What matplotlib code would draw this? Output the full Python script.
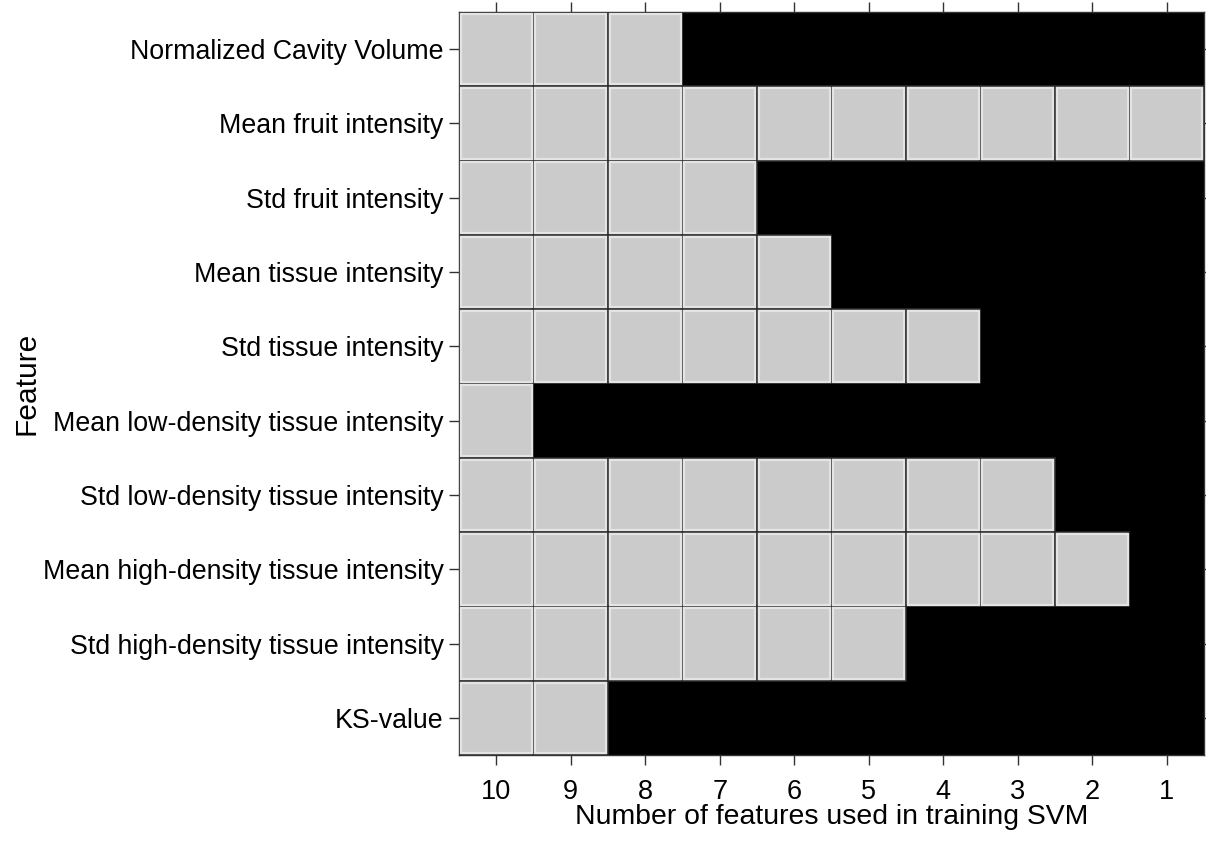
import numpy as np
import matplotlib
matplotlib.use("Agg")
import matplotlib.pyplot as plt
from matplotlib.patches import Rectangle

plt.rcParams['font.family'] = ['Liberation Sans', 'DejaVu Sans']

# feature names, top to bottom
features = [
    "Normalized Cavity Volume",
    "Mean fruit intensity",
    "Std fruit intensity",
    "Mean tissue intensity",
    "Std tissue intensity",
    "Mean low-density tissue intensity",
    "Std low-density tissue intensity",
    "Mean high-density tissue intensity",
    "Std high-density tissue intensity",
    "KS-value",
]
# number of features in the SVM (columns, left to right)
n_features = [10, 9, 8, 7, 6, 5, 4, 3, 2, 1]
# smallest feature count at which each feature is still kept
kept_down_to = [8, 1, 7, 6, 4, 10, 3, 2, 5, 9]

used = np.array([[n >= k for n in n_features] for k in kept_down_to])

fig = plt.figure(figsize=(12.06, 8.43), dpi=100)
ax = fig.add_axes([0.3806, 0.1044, 0.6177, 0.8814])
ax.set_facecolor("black")

for r in range(len(features)):
    for c in range(len(n_features)):
        if used[r, c]:
            # dark outline, then light bevel inside
            ax.add_patch(Rectangle((c - 0.5, r - 0.5), 1, 1, facecolor="#cbcbcb",
                                   edgecolor="#2a2a2a", linewidth=1.2, zorder=2))
            ax.add_patch(Rectangle((c - 0.475, r - 0.475), 0.95, 0.95, facecolor="none",
                                   edgecolor="#e4e4e4", linewidth=1.6, zorder=3))

ax.set_xlim(-0.5, len(n_features) - 0.5)
ax.set_ylim(len(features) - 0.5, -0.5)
ax.set_xticks(range(len(n_features)))
ax.set_xticklabels([str(n) for n in n_features], fontsize=19.5)
ax.set_yticks(range(len(features)))
ax.set_yticklabels(features, fontsize=19.3)
ax.tick_params(direction="out", length=7, width=1, color="#333333",
               top=True, right=True)
ax.tick_params(axis="y", pad=4)
ax.tick_params(axis="x", pad=10)
for s in ax.spines.values():
    s.set_color("#333333")
    s.set_linewidth(1)

ax.set_xlabel("Number of features used in training SVM", fontsize=20.4)
ax.xaxis.set_label_coords(0.5, -0.083, transform=ax.transAxes)
ax.xaxis.label.set_va("center")
ax.set_ylabel("Feature", fontsize=21.5, labelpad=2)

fig.savefig("out.png", dpi=100)
